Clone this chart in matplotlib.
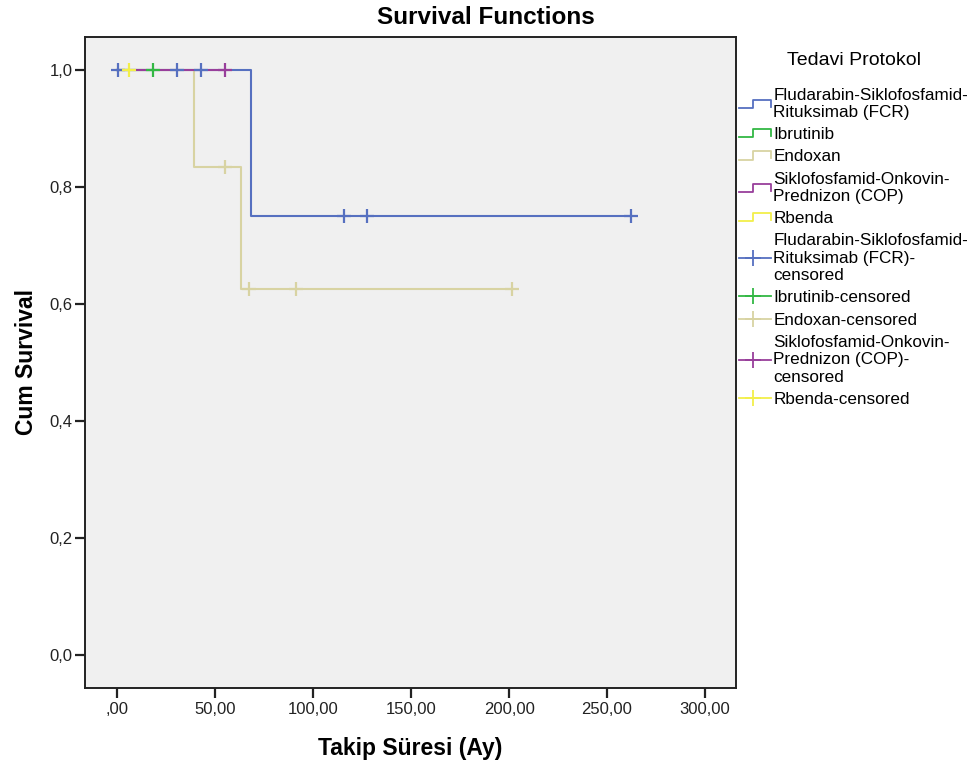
import numpy as np
import matplotlib
matplotlib.use('Agg')
import matplotlib.pyplot as plt
from matplotlib.lines import Line2D
from matplotlib.legend_handler import HandlerBase

plt.rcParams['font.family'] = ['Liberation Sans', 'DejaVu Sans']

# follow-up times (months) and status (1 = event, 0 = censored) per group
groups = ['Fludarabin-Siklofosfamid-\nRituksimab (FCR)', 'Ibrutinib', 'Endoxan',
          'Siklofosfamid-Onkovin-\nPrednizon (COP)', 'Rbenda']
censored_labels = ['Fludarabin-Siklofosfamid-\nRituksimab (FCR)-\ncensored', 'Ibrutinib-censored',
                   'Endoxan-censored', 'Siklofosfamid-Onkovin-\nPrednizon (COP)-\ncensored',
                   'Rbenda-censored']
colors = ['#5670c0', '#33b844', '#d8d3a2', '#983f9b', '#f2ef4a']

fcr_times = [0.5, 30.5, 42.5, 68, 115.5, 127.5, 262]
fcr_status = [0, 0, 0, 1, 0, 0, 0]
ibr_times = [18]
ibr_status = [0]
endo_times = [39, 55, 63, 67, 91, 201.5]
endo_status = [1, 0, 1, 0, 0, 0]
cop_times = [55]
cop_status = [0]
rbenda_times = [6]
rbenda_status = [0]

all_times = [fcr_times, ibr_times, endo_times, cop_times, rbenda_times]
all_status = [fcr_status, ibr_status, endo_status, cop_status, rbenda_status]

xticks = [0, 50, 100, 150, 200, 250, 300]
xticklabels = [',00', '50,00', '100,00', '150,00', '200,00', '250,00', '300,00']
yticks = [0, 0.2, 0.4, 0.6, 0.8, 1.0]
yticklabels = ['0,0', '0,2', '0,4', '0,6', '0,8', '1,0']


def kaplan_meier(times, status):
    t = np.array(times, dtype=float)
    s = np.array(status)
    order = np.argsort(t)
    t, s = t[order], s[order]
    surv = 1.0
    xs, ys = [0.0], [1.0]
    cens_x, cens_y = [], []
    n = len(t)
    for i in range(len(t)):
        if s[i] == 1:
            surv = surv * (n - 1) / n
            xs.append(t[i])
            ys.append(surv)
        else:
            cens_x.append(t[i])
            cens_y.append(surv)
        n -= 1
    xs.append(t[-1])
    ys.append(surv)
    return xs, ys, cens_x, cens_y


class StepHandler(HandlerBase):
    def create_artists(self, legend, orig_handle, xdescent, ydescent,
                       width, height, fontsize, trans):
        x0, x1 = -xdescent, -xdescent + width
        xm = x0 + width * 0.45
        ylo = -ydescent + height * 0.15
        yhi = -ydescent + height * 0.85
        line = Line2D([x0, xm, xm, x1, x1], [ylo, ylo, yhi, yhi, ylo + height * 0.1],
                      color=orig_handle.get_color(), lw=1.3, transform=trans)
        return [line]


class CensorHandler(HandlerBase):
    def create_artists(self, legend, orig_handle, xdescent, ydescent,
                       width, height, fontsize, trans):
        x0, x1 = -xdescent, -xdescent + width
        yc = -ydescent + height * 0.5
        line = Line2D([x0, x1], [yc, yc], color=orig_handle.get_color(), lw=1.3, transform=trans)
        mark = Line2D([x0 + width * 0.45], [yc], color=orig_handle.get_color(), marker='+',
                      markersize=11, mew=1.3, ls='none', transform=trans)
        return [line, mark]


fig = plt.figure(figsize=(9.72, 7.66), dpi=100)
ax = fig.add_axes([0.0875, 0.102, 0.670, 0.850])
ax.set_facecolor('#f0f0f0')

curves = []
cens = []
for i in range(len(groups)):
    xs, ys, cx, cy = kaplan_meier(all_times[i], all_status[i])
    l, = ax.step(xs, ys, where='post', color=colors[i], lw=1.5)
    curves.append(l)
    cens.append((cx, cy))

cens_handles = []
for i in range(len(groups)):
    cx, cy = cens[i]
    m, = ax.plot(cx, cy, ls='none', marker='+', markersize=9.5, mew=1.6, color=colors[i])
    cens_handles.append(m)

ax.set_xlim(-16.5, 316)
ax.set_ylim(-0.056, 1.056)
ax.set_xticks(xticks)
ax.set_xticklabels(xticklabels)
ax.set_yticks(yticks)
ax.set_yticklabels(yticklabels)
ax.tick_params(axis='both', direction='out', length=7.5, width=1.6, labelsize=12, colors='#222222')
ax.tick_params(axis='x', pad=3)
ax.tick_params(axis='y', pad=1.5)
for sp in ax.spines.values():
    sp.set_linewidth(1.4)
    sp.set_color('#222222')

ax.set_xlabel('Takip Süresi (Ay)', fontsize=16.5, fontweight='bold', labelpad=14)
ax.set_ylabel('Cum Survival', fontsize=16.5, fontweight='bold', labelpad=8)
fig.suptitle('Survival Functions', fontsize=17.5, fontweight='bold', x=0.5, y=0.992)

handler_map = {}
for c in curves:
    handler_map[c] = StepHandler()
for m in cens_handles:
    handler_map[m] = CensorHandler()

leg = fig.legend(curves + cens_handles, groups + censored_labels, loc='upper left',
                 bbox_to_anchor=(0.757, 0.937), frameon=False, fontsize=12.3,
                 title='Tedavi Protokol', title_fontsize=14, handlelength=1.85,
                 handletextpad=0.15, labelspacing=0.42, borderaxespad=0, borderpad=0.2,
                 handler_map=handler_map)
leg._legend_box.sep = 13.7
for t in leg.get_texts():
    t.set_linespacing(1.2)

fig.savefig('out.png', dpi=100)
